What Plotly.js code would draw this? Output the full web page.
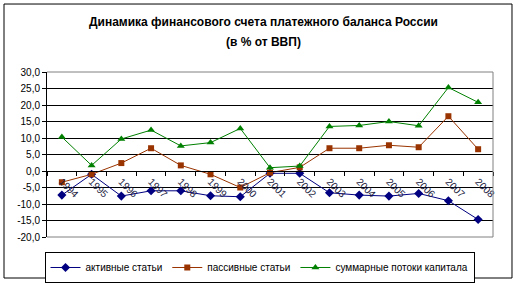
<!DOCTYPE html>
<html>
<head>
<meta charset="utf-8">
<script src="https://cdn.plot.ly/plotly-3.0.1.min.js"></script>
<style>html,body{margin:0;padding:0;background:#fff;}#chart{width:522px;height:284px;}</style>
</head>
<body>
<div id="chart"></div>
<script>
const years = ['1994','1995','1996','1997','1998','1999','2000','2001','2002','2003','2004','2005','2006','2007','2008'];
const activeItems  = [-7.3, -1.0, -7.6, -6.0, -6.0, -7.5, -7.8, -0.7, -0.7, -6.6, -7.3, -7.6, -6.8, -9.0, -14.7];
const passiveItems = [-3.4, -1.0, 2.4, 6.9, 1.7, -1.0, -5.0, -0.5, 1.1, 6.9, 6.9, 7.8, 7.2, 16.6, 6.6];
const totalFlows   = [10.3, 1.7, 9.7, 12.4, 7.6, 8.6, 12.9, 1.0, 1.5, 13.5, 13.8, 15.0, 13.7, 25.3, 20.8];
const seriesNames = ['активные статьи', 'пассивные статьи', 'суммарные потоки капитала'];
const yTickVals = [30, 25, 20, 15, 10, 5, 0, -5, -10, -15, -20];
const yTickText = ['30,0', '25,0', '20,0', '15,0', '10,0', '5,0', '0,0', '-5,0', '-10,0', '-15,0', '-20,0'];
const titleLine1 = 'Динамика финансового счета платежного баланса России';
const titleLine2 = '(в % от ВВП)';

const FONT = 'Liberation Sans, Arial, sans-serif';
const traces = [
  {x: years, y: activeItems, name: seriesNames[0], type: 'scatter', mode: 'lines+markers',
   line: {color: '#000080', width: 1}, marker: {symbol: 'diamond', size: 7, color: '#000080'}},
  {x: years, y: passiveItems, name: seriesNames[1], type: 'scatter', mode: 'lines+markers',
   line: {color: '#993300', width: 1}, marker: {symbol: 'square', size: 6, color: '#993300'}},
  {x: years, y: totalFlows, name: seriesNames[2], type: 'scatter', mode: 'lines+markers',
   line: {color: '#008000', width: 1}, marker: {symbol: 'triangle-up', size: 7, color: '#008000'}}
];

const layout = {
  width: 522, height: 284,
  margin: {l: 47, r: 29, t: 72, b: 47, autoexpand: false},
  paper_bgcolor: '#fff', plot_bgcolor: '#fff',
  font: {family: FONT, size: 10, color: '#000'},
  showlegend: true,
  legend: {orientation: 'h', x: 0.4765, xanchor: 'center', yref: 'container', y: 0.1127, yanchor: 'top',
           bordercolor: '#000', borderwidth: 1, font: {family: FONT, size: 10, color: '#000'},
           itemwidth: 30, tracegroupgap: 0},
  xaxis: {type: 'category', range: [-0.5, 14.5], anchor: 'free', position: 0.4, automargin: false,
          showline: true, linecolor: '#000', linewidth: 1, showgrid: false, zeroline: false,
          ticks: 'outside', tickson: 'boundaries', ticklen: 4, tickcolor: '#000',
          tickangle: 45, tickfont: {family: FONT, size: 10, color: '#1a1a40'}},
  yaxis: {range: [-20, 30], tickvals: yTickVals, ticktext: yTickText, automargin: false,
          showline: true, linecolor: '#000', linewidth: 1, showgrid: true, gridcolor: '#000', gridwidth: 1,
          zeroline: false, ticks: 'outside', ticklen: 4, tickcolor: '#000',
          tickfont: {family: FONT, size: 10, color: '#000'}},
  annotations: [
    {text: '<b>' + titleLine1 + '</b>', xref: 'paper', yref: 'paper', x: 0.4865, y: 1.30, xanchor: 'center', yanchor: 'middle',
     showarrow: false, font: {family: FONT, size: 12, color: '#000'}},
    {text: '<b>' + titleLine2 + '</b>', xref: 'paper', yref: 'paper', x: 0.4865, y: 1.18, xanchor: 'center', yanchor: 'middle',
     showarrow: false, font: {family: FONT, size: 12, color: '#000'}}
  ],
  shapes: [
    {type: 'line', xref: 'paper', yref: 'paper', x0: 0, x1: 1, y0: 1, y1: 1, line: {color: '#808080', width: 1}, layer: 'above'},
    {type: 'line', xref: 'paper', yref: 'paper', x0: 0, x1: 1, y0: 0, y1: 0, line: {color: '#808080', width: 1}, layer: 'above'},
    {type: 'line', xref: 'paper', yref: 'paper', x0: 1, x1: 1, y0: 0, y1: 1, line: {color: '#808080', width: 1}, layer: 'above'},
    {type: 'rect', xref: 'paper', yref: 'paper', x0: -0.0964, x1: 1.0426, y0: -0.2485, y1: 1.412,
     line: {color: '#000', width: 1}, fillcolor: 'rgba(0,0,0,0)', layer: 'above'}
  ]
};

Plotly.newPlot('chart', traces, layout, {displayModeBar: false, staticPlot: true});
</script>
</body>
</html>
